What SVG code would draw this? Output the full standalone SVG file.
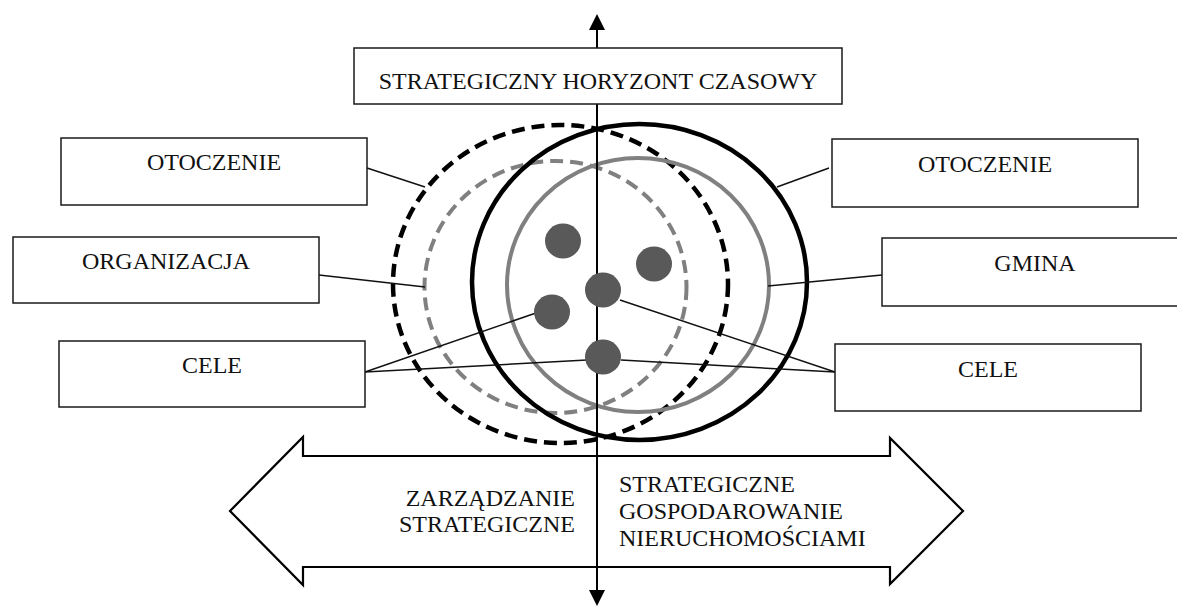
<svg xmlns="http://www.w3.org/2000/svg" width="1177" height="606" viewBox="0 0 1177 606">
<style>
.box{fill:#fff;stroke:#1a1a1a;stroke-width:1.5}
.lbl{font-family:"Liberation Serif","Times New Roman",serif;font-size:24px;fill:#111}
.mid{text-anchor:middle}
.con{stroke:#111;stroke-width:1.5;fill:none}
.blk{fill:none;stroke:#000;stroke-width:4.5}
.gry{fill:none;stroke:#808080;stroke-width:4}
.dash{stroke-dasharray:13 7}
.dot{fill:#595959}
</style>
<rect width="1177" height="606" fill="#fff"/>
<g id="circles">
<ellipse class="blk dash" cx="560.5" cy="284" rx="167.5" ry="159"/>
<ellipse class="gry dash" cx="555.5" cy="287" rx="131" ry="126"/>
<ellipse class="blk" cx="639.5" cy="282" rx="167.5" ry="158"/>
<ellipse class="gry" cx="638" cy="285" rx="131" ry="127"/>
</g>
<g id="bigarrow">
<polygon points="230,511 303,437 303,456 890,456 890,438 963,511 890,584 890,567 303,567 303,585" fill="#fff" stroke="#000" stroke-width="2.2" stroke-linejoin="miter"/>
<text class="lbl" x="575" y="506" text-anchor="end">ZARZĄDZANIE</text>
<text class="lbl" x="575" y="532" text-anchor="end">STRATEGICZNE</text>
<text class="lbl" x="619" y="492">STRATEGICZNE</text>
<text class="lbl" x="619" y="519">GOSPODAROWANIE</text>
<text class="lbl" x="619" y="546">NIERUCHOMOŚCIAMI</text>
</g>
<g id="axis">
<line x1="597" y1="28" x2="597" y2="592" stroke="#000" stroke-width="2"/>
<polygon points="597,14 589,30 605,30" fill="#000"/>
<polygon points="597,606 589,590 605,590" fill="#000"/>
</g>
<g id="connectors">
<line class="con" x1="367" y1="168" x2="425" y2="187"/>
<line class="con" x1="319" y1="275" x2="425" y2="287"/>
<line class="con" x1="365" y1="372" x2="536" y2="313"/>
<line class="con" x1="365" y1="372" x2="587" y2="360"/>
<line class="con" x1="829" y1="168" x2="777" y2="187"/>
<line class="con" x1="882" y1="275" x2="768" y2="286"/>
<line class="con" x1="835" y1="372" x2="620" y2="300"/>
<line class="con" x1="835" y1="372" x2="621" y2="360"/>
</g>
<g id="dots">
<ellipse class="dot" cx="563" cy="241" rx="18" ry="17.5"/>
<ellipse class="dot" cx="654" cy="264" rx="18" ry="17.5"/>
<ellipse class="dot" cx="603" cy="290" rx="18" ry="17.5"/>
<ellipse class="dot" cx="552" cy="312" rx="18" ry="17.5"/>
<ellipse class="dot" cx="603" cy="357" rx="18" ry="17.5"/>
</g>
<g id="horizon">
<rect class="box" x="354" y="48" width="488" height="56"/>
<text class="lbl mid" x="598" y="89">STRATEGICZNY HORYZONT CZASOWY</text>
</g>
<g id="otoczenie-left">
<rect class="box" x="61" y="138" width="306" height="67"/>
<text class="lbl mid" x="214" y="170">OTOCZENIE</text>
</g>
<g id="organizacja">
<rect class="box" x="13" y="237" width="306" height="66"/>
<text class="lbl mid" x="166" y="269">ORGANIZACJA</text>
</g>
<g id="cele-left">
<rect class="box" x="59" y="341" width="306" height="66"/>
<text class="lbl mid" x="212" y="373">CELE</text>
</g>
<g id="otoczenie-right">
<rect class="box" x="832" y="139" width="306" height="68"/>
<text class="lbl mid" x="985" y="172">OTOCZENIE</text>
</g>
<g id="gmina">
<rect class="box" x="882" y="238" width="306" height="68"/>
<text class="lbl mid" x="1035" y="271">GMINA</text>
</g>
<g id="cele-right">
<rect class="box" x="835" y="344" width="306" height="67"/>
<text class="lbl mid" x="988" y="377">CELE</text>
</g>
</svg>
